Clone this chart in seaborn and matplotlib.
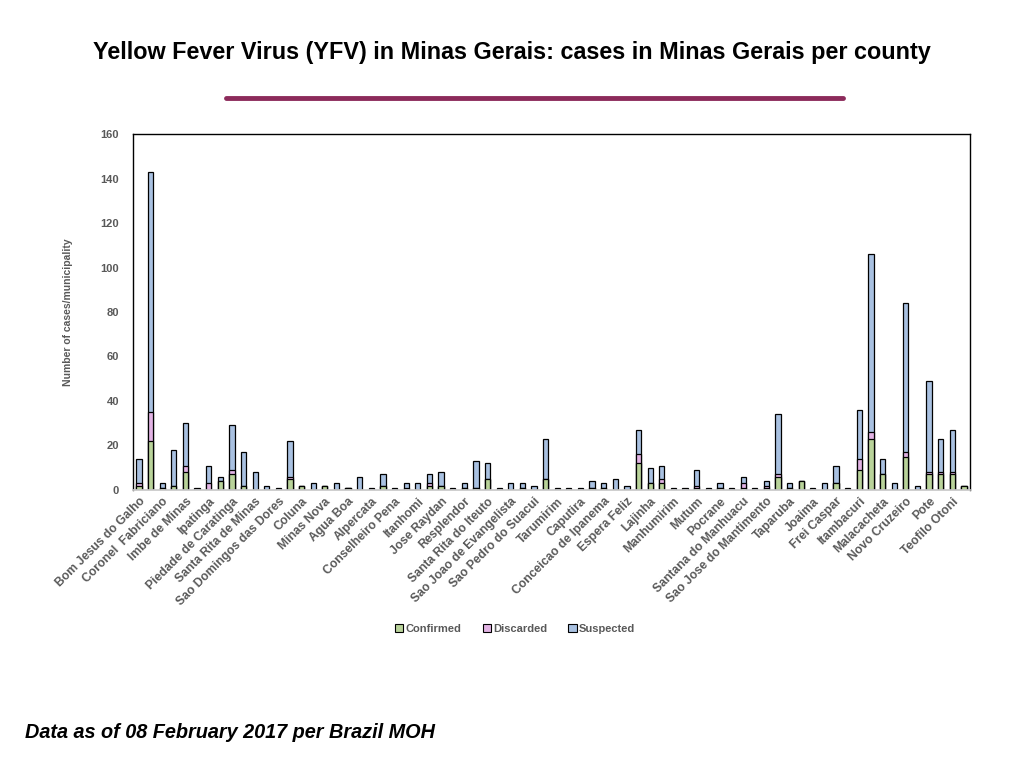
import numpy as np
import pandas as pd
import matplotlib
matplotlib.use("Agg")
import matplotlib.pyplot as plt
from matplotlib.patches import Patch
from matplotlib.lines import Line2D
import seaborn as sns

# only every other county is labelled on the axis
tick_labels = [
    "Bom Jesus do Galho", "Coronel  Fabriciano", "Imbe de Minas", "Ipatinga",
    "Piedade de Caratinga", "Santa Rita de Minas", "Sao Domingos das Dores", "Coluna",
    "Minas Nova", "Agua Boa", "Alpercata", "Conselheiro Pena", "Itanhomi",
    "Jose Raydan", "Resplendor", "Santa Rita do Iteuto", "Sao Joao de Evangelista",
    "Sao Pedro do Suacui", "Tarumirim", "Caputira", "Conceicao de Ipanema",
    "Espera Feliz", "Lajinha", "Manhumirim", "Mutum", "Pocrane",
    "Santana do Manhuacu", "Sao Jose do Mantimento", "Taparuba", "Joaima",
    "Frei Caspar", "Itambacuri", "Malacacheta", "Novo Cruzeiro", "Pote",
    "Teofilo Otoni",
]

confirmed = [2, 22, 1, 2, 8, 0, 0, 4, 7, 2, 0, 0, 0, 5, 2, 0, 2, 0, 1, 0, 0, 2, 0, 0,
             0, 2, 2, 0, 1, 1, 5, 0, 0, 1, 0, 5, 0, 0, 0, 1, 1, 0, 0, 12, 3, 3, 0, 0,
             1, 0, 1, 0, 1, 0, 1, 6, 1, 4, 0, 0, 3, 0, 9, 23, 7, 0, 15, 0, 7, 7, 7, 2]
discarded = [1, 13, 0, 0, 3, 0, 3, 0, 2, 0, 0, 0, 0, 1, 0, 0, 0, 0, 0, 0, 0, 0, 0, 1,
             0, 1, 0, 0, 0, 0, 0, 0, 0, 0, 0, 0, 0, 0, 0, 0, 0, 0, 0, 4, 0, 2, 0, 0,
             1, 0, 0, 0, 2, 0, 1, 1, 0, 0, 0, 0, 0, 0, 5, 3, 0, 0, 2, 0, 1, 1, 1, 0]
suspected = [11, 108, 2, 16, 19, 1, 8, 2, 20, 15, 8, 2, 1, 16, 0, 3, 0, 3, 0, 6, 1, 5, 1, 2,
             3, 4, 6, 1, 2, 12, 7, 1, 3, 2, 2, 18, 1, 1, 1, 3, 2, 5, 2, 11, 7, 6, 1, 1,
             7, 1, 2, 1, 3, 1, 2, 27, 2, 0, 1, 3, 8, 1, 22, 80, 7, 3, 67, 2, 41, 15, 19, 0]

series_names = ["Confirmed", "Discarded", "Suspected"]
series_colors = ["#b9d39a", "#e2b3e4", "#a9c1e1"]

df = pd.DataFrame({"pos": np.arange(len(confirmed)),
                   "confirmed": confirmed, "discarded": discarded, "suspected": suspected})
df["c_d"] = df["confirmed"] + df["discarded"]
df["total"] = df["c_d"] + df["suspected"]

sns.set_theme(style="white")
plt.rcParams["font.family"] = ["Liberation Sans", "DejaVu Sans"]

fig = plt.figure(figsize=(10.24, 7.68), dpi=100)
ax = fig.add_axes([0.130, 0.362, 0.817, 0.4635])

grey = "#595959"
# stacked look: draw the cumulative totals back to front
for col, color in zip(["total", "c_d", "confirmed"], series_colors[::-1]):
    sns.barplot(data=df, x="pos", y=col, ax=ax, color=color, saturation=1,
                edgecolor="black", linewidth=0.9, width=0.45, errorbar=None,
                native_scale=True)

ax.set_xlim(-0.5, len(confirmed) - 0.5)
ax.set_ylim(0, 160)
ax.set_yticks(range(0, 161, 20))
ax.set_xticks(range(0, len(confirmed), 2))
ax.set_xticklabels(tick_labels, rotation=45, ha="right", rotation_mode="anchor",
                   fontsize=8.7, fontweight="bold", color=grey)
ax.tick_params(axis="y", labelsize=8, labelcolor=grey, length=0, pad=10)
ax.tick_params(axis="x", length=0, pad=4)
for lab in ax.get_yticklabels():
    lab.set_fontweight("bold")
ax.set_xlabel("")
ax.set_ylabel("Number of cases/municipality", fontsize=7.5, fontweight="bold",
              color=grey, labelpad=20)
for side in ["left", "top", "right"]:
    ax.spines[side].set_color("black")
    ax.spines[side].set_linewidth(1.0)
ax.spines["bottom"].set_color("#c8c8c8")

handles = [Patch(facecolor=c, edgecolor="black", linewidth=0.8) for c in series_colors]
fig.legend(handles, series_names, loc="center", bbox_to_anchor=(0.503, 1 - 629 / 768),
           ncol=3, frameon=False, handlelength=0.75, handleheight=0.75, handletextpad=0.2,
           columnspacing=1.9, prop={"size": 8, "weight": "bold"}, labelcolor=grey)

fig.text(0.5, 1 - 52 / 768, "Yellow Fever Virus (YFV) in Minas Gerais: cases in Minas Gerais per county",
         ha="center", va="center", fontsize=16.8, fontweight="bold", color="black",
         family=["Liberation Sans Narrow", "Liberation Sans", "DejaVu Sans"])
fig.add_artist(Line2D([226 / 1024, 843 / 1024], [1 - 98 / 768, 1 - 98 / 768],
                      color="#8c2b5b", linewidth=3.5, transform=fig.transFigure))
fig.text(25 / 1024, 1 - 733 / 768, "Data as of 08 February 2017 per Brazil MOH",
         ha="left", va="center", fontsize=14.3, fontweight="bold", style="italic", color="black")

fig.savefig("out.png", dpi=100)
